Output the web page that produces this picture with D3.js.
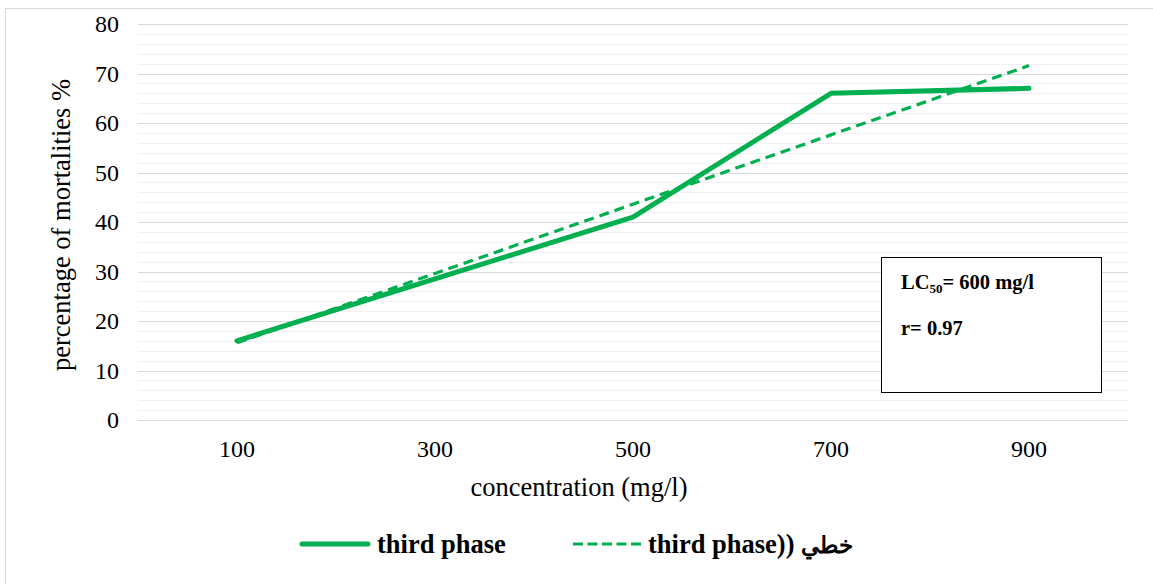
<!DOCTYPE html>
<html><head><meta charset="utf-8">
<script src="https://cdn.jsdelivr.net/npm/d3@7"></script>
<style>
html,body{margin:0;padding:0;background:#fff;}
svg{display:block;}
text{font-family:"Liberation Serif","Times New Roman",serif;fill:#000;}
</style></head>
<body>
<svg id="chart" width="1153" height="584"></svg>
<script>
const categories = ["100","300","500","700","900"];
const thirdPhase = [16, 28.5, 41, 66, 67];
const trendValues = [15.6, 29.6, 43.6, 57.6, 71.6];
const yTicks = [0,10,20,30,40,50,60,70,80];
const minorTicks = d3.range(0, 81, 2);

const svg = d3.select("#chart");

svg.append("rect").attr("x",5.5).attr("y",8.5).attr("width",1200).attr("height",700)
  .attr("fill","#fff").attr("stroke","#d9d9d9").attr("stroke-width",1);

const x = d3.scaleBand().domain(categories).range([138, 1128]);
const y = d3.scaleLinear().domain([0,80]).range([420, 24]);

const g = svg.append("g");
g.selectAll("line.minor").data(minorTicks.filter(d=>d%10!==0)).enter().append("line")
  .attr("x1",138).attr("x2",1128).attr("y1",d=>Math.round(y(d))+0.5).attr("y2",d=>Math.round(y(d))+0.5)
  .attr("stroke","#f0f0f0").attr("stroke-width",1);
g.selectAll("line.major").data(yTicks).enter().append("line")
  .attr("x1",138).attr("x2",1128).attr("y1",d=>Math.round(y(d))+0.5).attr("y2",d=>Math.round(y(d))+0.5)
  .attr("stroke","#d9d9d9").attr("stroke-width",1);

const yAxis = d3.axisLeft(y).tickValues(yTicks).tickSize(0).tickPadding(0);
svg.append("g").attr("transform","translate(119,0)").call(yAxis)
  .call(s=>s.select(".domain").remove())
  .selectAll("text").style("font-family",'"Liberation Serif",serif').style("font-size","24px").attr("fill","#000");

const xAxis = d3.axisBottom(x).tickSize(0).tickPadding(0);
svg.append("g").attr("transform","translate(0,440)").call(xAxis)
  .call(s=>s.select(".domain").remove())
  .selectAll("text").style("font-family",'"Liberation Serif",serif').style("font-size","24px").attr("fill","#000");

svg.append("text").attr("x",579).attr("y",496).attr("text-anchor","middle")
  .style("font-size","26.5px").text("concentration (mg/l)");
svg.append("text").attr("transform","translate(70,225) rotate(-90)").attr("text-anchor","middle")
  .style("font-size","26.5px").text("percentage of mortalities %");

const green = "#00b050";
const line = d3.line().x((d,i)=>x(categories[i])+x.bandwidth()/2).y(d=>y(d));

svg.append("path").datum(trendValues).attr("d",line).attr("fill","none")
  .attr("stroke",green).attr("stroke-width",3.2).attr("stroke-dasharray","10,6");
svg.append("path").datum(thirdPhase).attr("d",line).attr("fill","none")
  .attr("stroke",green).attr("stroke-width",5).attr("stroke-linecap","round").attr("stroke-linejoin","round");

svg.append("rect").attr("x",881.5).attr("y",257.5).attr("width",220).attr("height",135)
  .attr("fill","#fff").attr("stroke","#000").attr("stroke-width",1);
const t1 = svg.append("text").attr("x",901).attr("y",289).style("font-size","20.5px").style("font-weight","bold");
t1.append("tspan").text("LC");
t1.append("tspan").attr("dy",4).style("font-size","13px").text("50");
t1.append("tspan").attr("dy",-4).text("= 600 mg/l");
svg.append("text").attr("x",901).attr("y",335).style("font-size","20.5px").style("font-weight","bold").text("r= 0.97");

const ly = 544;
svg.append("line").attr("x1",302).attr("x2",368).attr("y1",ly).attr("y2",ly)
  .attr("stroke",green).attr("stroke-width",5).attr("stroke-linecap","round");
svg.append("text").attr("x",377).attr("y",553).style("font-size","26.5px").style("font-weight","bold").text("third phase");
svg.append("line").attr("x1",573).attr("x2",641).attr("y1",ly).attr("y2",ly)
  .attr("stroke",green).attr("stroke-width",3.2).attr("stroke-dasharray","10,4.5");
const lt = svg.append("text").attr("x",648).attr("y",553).attr("direction","ltr").style("unicode-bidi","embed")
  .style("font-size","26.5px").style("font-weight","bold");
lt.append("tspan").text("third phase)) ");
lt.append("tspan").style("font-size","23px").text("خطي");
</script>
</body></html>
